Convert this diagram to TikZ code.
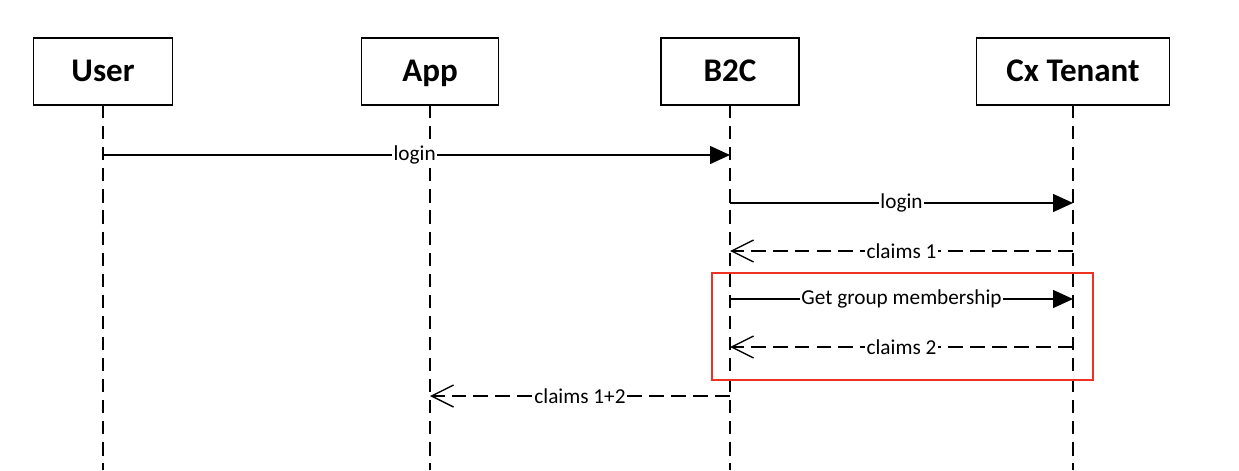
\documentclass[tikz,border=0pt]{standalone}
\usepackage{fontspec}
\setmainfont{Carlito}
\usetikzlibrary{arrows.meta}
\tikzset{
	actor/.style={draw, line width=0.8pt, fill=white, minimum height=1.34cm, text height=1.2em, text depth=0.05em, font=\fontsize{18.8}{20}\selectfont\bfseries},
	life/.style={line width=0.8pt, dash pattern=on 7.5pt off 4.5pt},
	msg/.style={line width=0.8pt, -{Triangle[length=0.4cm, width=0.36cm]}},
	ret/.style={line width=0.8pt, dash pattern=on 8.5pt off 4pt, -{Straight Barb[length=0.44cm, width=0.44cm, line width=0.8pt]}},
	lbl/.style={fill=white, inner sep=1pt, font=\fontsize{12.1}{14}\selectfont}
}

\begin{document}
\begin{tikzpicture}[x=0.02cm, y=-0.02cm]
		%%%%% START %%%%%
		
		\useasboundingbox (0, 0) rectangle (1239, 470);
		
		% lifelines
		\draw[life] (103, 105) -- (103, 470);
		\draw[life] (430, 105) -- (430, 470);
		\draw[life] (730, 105) -- (730, 470);
		\draw[life] (1073, 105) -- (1073, 470);
		
		% participants
		\node[actor, minimum width=2.78cm] (user) at (103, 71.5) {User};
		\node[actor, minimum width=2.74cm] (app) at (430, 71.5) {App};
		\node[actor, minimum width=2.76cm] (btoc) at (730, 71.5) {B2C};
		\node[actor, minimum width=3.86cm] (cx) at (1073, 71.5) {Cx Tenant};
		
		% message rows
		\coordinate (r1) at (0, 155);
		\coordinate (r2) at (0, 203);
		\coordinate (r3) at (0, 251);
		\coordinate (r4) at (0, 299);
		\coordinate (r5) at (0, 347);
		\coordinate (r6) at (0, 396);
		
		\draw[msg] (user |- r1) -- node[lbl, pos=0.497] {login} (btoc |- r1);
		\draw[msg] (btoc |- r2) -- node[lbl] {login} (cx |- r2);
		\draw[ret] (cx |- r3) -- node[lbl] {claims 1} (btoc |- r3);
		\draw[msg] (btoc |- r4) -- node[lbl] {Get group membership} (cx |- r4);
		\draw[ret] (cx |- r5) -- node[lbl] {claims 2} (btoc |- r5);
		\draw[ret] (btoc |- r6) -- node[lbl] {claims 1+2} (app |- r6);
		
		% highlight
		\draw[line width=0.8pt, color={rgb,255:red,237;green,50;blue,36}] (712, 273) rectangle (1093, 380);
		
		%%%%% END %%%%%
\end{tikzpicture}
\end{document}
